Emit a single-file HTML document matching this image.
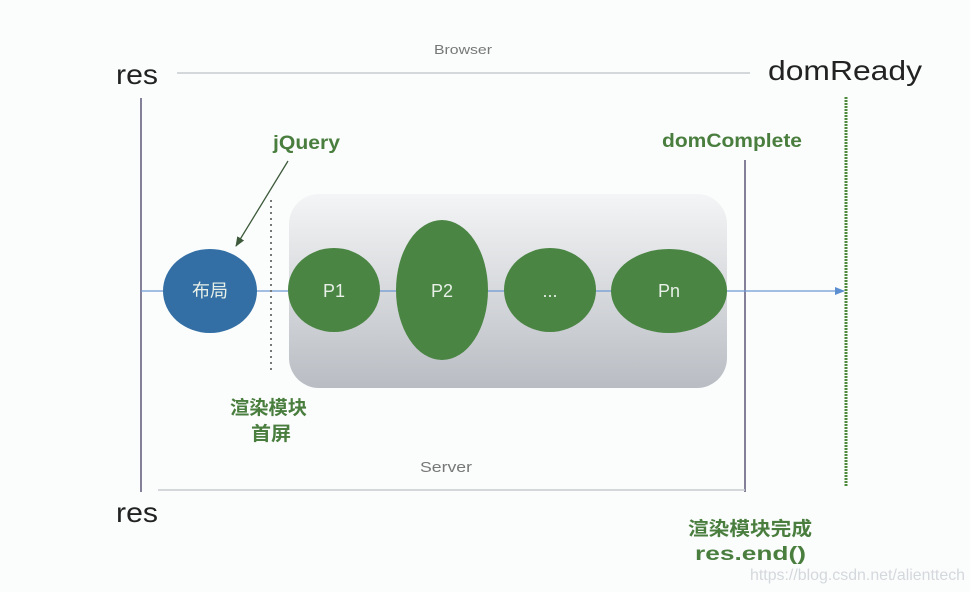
<!DOCTYPE html>
<html><head><meta charset="utf-8"><style>
html,body{margin:0;padding:0;background:#fbfdfd;}
svg{display:block;}
</style></head><body>
<svg width="970" height="592" viewBox="0 0 970 592" xmlns="http://www.w3.org/2000/svg">
<defs>
<linearGradient id="g" x1="0" y1="0" x2="0" y2="1">
<stop offset="0" stop-color="#f4f5f6"/><stop offset="1" stop-color="#b9bdc3"/>
</linearGradient>
<marker id="a" markerWidth="10" markerHeight="8" refX="9" refY="4" orient="auto" markerUnits="userSpaceOnUse"><path d="M0,0 L10,4 L0,8 z" fill="#5b8fd0"/></marker>
<marker id="b" markerWidth="10" markerHeight="8" refX="9" refY="4" orient="auto" markerUnits="userSpaceOnUse"><path d="M0,0 L10,4 L0,8 z" fill="#3d5a3a"/></marker>
</defs>
<rect width="970" height="592" fill="#fbfdfd"/>
<g font-family="Liberation Sans, sans-serif">
<text x="434" y="54" font-size="13" fill="#777" textLength="58" lengthAdjust="spacingAndGlyphs">Browser</text>
<text x="116" y="84" font-size="28" fill="#222" textLength="42" lengthAdjust="spacingAndGlyphs">res</text>
<text x="768" y="80" font-size="28" fill="#222" textLength="154" lengthAdjust="spacingAndGlyphs">domReady</text>
<line x1="177" y1="73" x2="750" y2="73" stroke="#c8cbcf" stroke-width="1.5"/>
<line x1="141" y1="98" x2="141" y2="492" stroke="#5c567a" stroke-width="1.5"/>
<line x1="745" y1="160" x2="745" y2="492" stroke="#5c567a" stroke-width="1.5"/>
<line x1="846" y1="97" x2="846" y2="486" stroke="#4e8a3c" stroke-width="3" stroke-dasharray="2 1"/>
<rect x="289" y="194" width="438" height="194" rx="30" fill="url(#g)"/>
<line x1="141" y1="291" x2="844" y2="291" stroke="#6d99d3" stroke-width="1.2" marker-end="url(#a)"/>
<line x1="271" y1="200" x2="271" y2="372" stroke="#777" stroke-width="2" stroke-dasharray="2 4"/>
<ellipse cx="210" cy="291" rx="47" ry="42" fill="#336fa4"/>
<ellipse cx="334" cy="290" rx="46" ry="42" fill="#4a8543"/>
<ellipse cx="442" cy="290" rx="46" ry="70" fill="#4a8543"/>
<ellipse cx="550" cy="290" rx="46" ry="42" fill="#4a8543"/>
<ellipse cx="669" cy="291" rx="58" ry="42" fill="#4a8543"/>
<g fill="#e8f0e8" font-size="18" text-anchor="middle">
<text x="210" y="297" font-family="Liberation Sans, Noto Sans CJK SC, sans-serif">布局</text>
<text x="334" y="297">P1</text>
<text x="442" y="297">P2</text>
<text x="550" y="297">...</text>
<text x="669" y="297">Pn</text>
</g>
<line x1="288" y1="161" x2="236" y2="246" stroke="#3d5a3a" stroke-width="1.3" marker-end="url(#b)"/>
<g fill="#4a7e3e" font-weight="bold" font-size="19" font-family="Liberation Sans, Noto Sans CJK SC, sans-serif">
<text x="273" y="149" textLength="67" lengthAdjust="spacingAndGlyphs">jQuery</text>
<text x="662" y="147" textLength="140" lengthAdjust="spacingAndGlyphs">domComplete</text>
<text x="230" y="414" textLength="77" lengthAdjust="spacingAndGlyphs">渲染模块</text>
<text x="251" y="440" textLength="40" lengthAdjust="spacingAndGlyphs">首屏</text>
<text x="688" y="535" textLength="124" lengthAdjust="spacingAndGlyphs">渲染模块完成</text>
<text x="695" y="560" textLength="111" lengthAdjust="spacingAndGlyphs">res.end()</text>
</g>
<text x="420" y="472" font-size="15" fill="#777" textLength="52" lengthAdjust="spacingAndGlyphs">Server</text>
<line x1="158" y1="490" x2="745" y2="490" stroke="#c8cbcf" stroke-width="1.5"/>
<text x="116" y="522" font-size="28" fill="#222" textLength="42" lengthAdjust="spacingAndGlyphs">res</text>
<text x="750" y="580" font-size="16" fill="#d4d8dc" textLength="215" lengthAdjust="spacingAndGlyphs">https://blog.csdn.net/alienttech</text>
</g>
</svg>
</body></html>
